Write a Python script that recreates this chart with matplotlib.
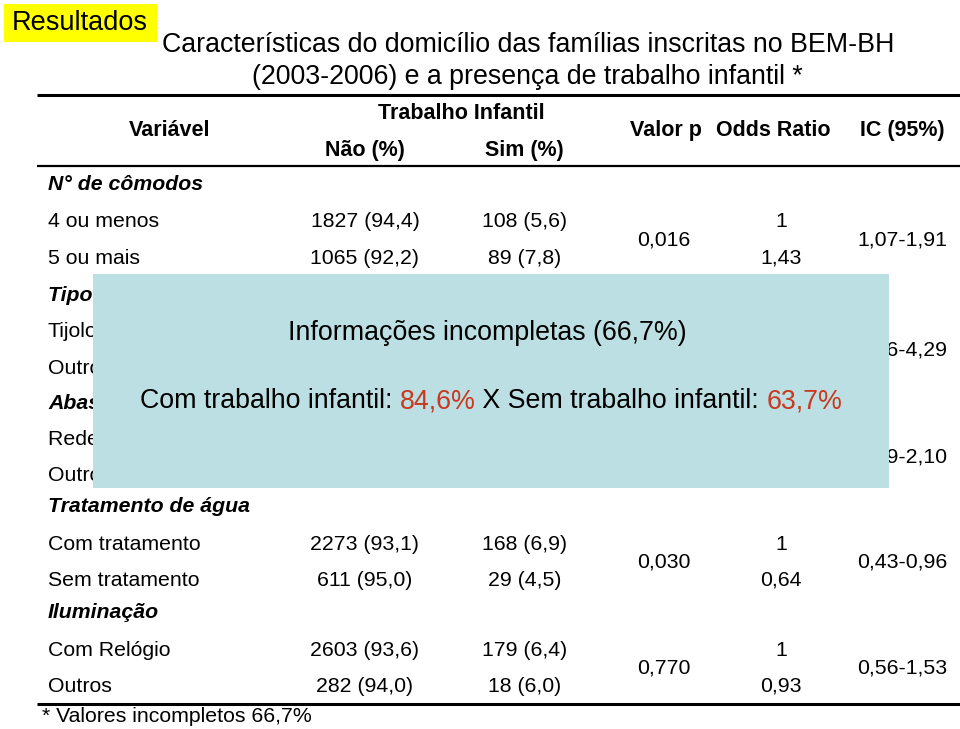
import matplotlib
matplotlib.use("Agg")
import matplotlib.pyplot as plt
from matplotlib.patches import Rectangle

plt.rcParams['font.family'] = ['Liberation Sans', 'DejaVu Sans']

# ---- data ----
title_lines = ["Características do domicílio das famílias inscritas no BEM-BH",
               "(2003-2006) e a presença de trabalho infantil *"]
col_headers = ["Variável", "Não (%)", "Sim (%)", "Valor p", "Odds Ratio", "IC (95%)"]
group_header = "Trabalho Infantil"

sections = ["N° de cômodos", "Tipo de construção", "Abastecimento de água",
            "Tratamento de água", "Iluminação"]
categories = [["4 ou menos", "5 ou mais"],
              ["Tijolo", "Outros"],
              ["Rede pública", "Outros"],
              ["Com tratamento", "Sem tratamento"],
              ["Com Relógio", "Outros"]]
nao_vals = [["1827 (94,4)", "1065 (92,2)"],
            ["", ""],
            ["", ""],
            ["2273 (93,1)", "611 (95,0)"],
            ["2603 (93,6)", "282 (94,0)"]]
sim_vals = [["108 (5,6)", "89 (7,8)"],
            ["", ""],
            ["", ""],
            ["168 (6,9)", "29 (4,5)"],
            ["179 (6,4)", "18 (6,0)"]]
p_vals = ["0,016", "", "", "0,030", "0,770"]
odds = [["1", "1,43"], ["", ""], ["", ""], ["1", "0,64"], ["1", "0,93"]]
ic_vals = ["1,07-1,91", "1,16-4,29", "1,09-2,10", "0,43-0,96", "0,56-1,53"]

overlay_line1 = "Informações incompletas (66,7%)"
overlay_parts = [("Com trabalho infantil: ", "black"), ("84,6%", "#C9381F"),
                 (" X Sem trabalho infantil: ", "black"), ("63,7%", "#C9381F")]
footnote = "* Valores incompletos 66,7%"

# ---- figure ----
fig = plt.figure(figsize=(9.6, 7.29), dpi=100)
ax = fig.add_axes([0, 0, 1, 1])
ax.set_xlim(0, 960)
ax.set_ylim(729, 0)
ax.axis('off')

# Resultados badge
ax.add_patch(Rectangle((4, 4), 153, 38, facecolor='#FFFF00', edgecolor='none', zorder=1))
ax.text(12, 23, "Resultados", fontsize=19.5, va='center', ha='left', zorder=2)

# title
ax.text(528, 45, title_lines[0], fontsize=19.3, ha='center', va='center')
ax.text(527, 77, title_lines[1], fontsize=19.3, ha='center', va='center')

# rules
ax.plot([37, 960], [95, 95], color='black', lw=2.2, solid_capstyle='butt')
ax.plot([37, 960], [166, 166], color='black', lw=1.6, solid_capstyle='butt')
ax.plot([37, 960], [704, 704], color='black', lw=2.2, solid_capstyle='butt')

hfs = 15.5
ax.text(461, 113, group_header, fontsize=hfs, fontweight='bold', ha='center', va='center')
ax.text(170, 130, col_headers[0], fontsize=hfs, fontweight='bold', ha='center', va='center')
ax.text(365, 150, col_headers[1], fontsize=hfs, fontweight='bold', ha='center', va='center')
ax.text(524, 150, col_headers[2], fontsize=hfs, fontweight='bold', ha='center', va='center')
ax.text(666, 130, col_headers[3], fontsize=hfs, fontweight='bold', ha='center', va='center')
ax.text(773, 130, col_headers[4], fontsize=hfs, fontweight='bold', ha='center', va='center')
ax.text(902, 130, col_headers[5], fontsize=hfs, fontweight='bold', ha='center', va='center')

# body
fs = 15.3
sec_y = [184, 295, 403, 507, 613]
row_y = [[221, 258], [331, 368], [439, 475], [545, 580], [650, 686]]
for i, sec in enumerate(sections):
    ax.text(48, sec_y[i], sec, fontsize=fs, fontweight='bold', style='italic',
            ha='left', va='center')
    for j in range(2):
        y = row_y[i][j]
        ax.text(48, y, categories[i][j], fontsize=fs, ha='left', va='center')
        ax.text(365, y, nao_vals[i][j], fontsize=fs, ha='center', va='center')
        ax.text(525, y, sim_vals[i][j], fontsize=fs, ha='center', va='center')
        ax.text(781, y, odds[i][j], fontsize=fs, ha='center', va='center')
    ymid = (row_y[i][0] + row_y[i][1]) / 2
    ax.text(664, ymid, p_vals[i], fontsize=fs, ha='center', va='center')
    ax.text(902, ymid, ic_vals[i], fontsize=fs, ha='center', va='center')

ax.text(42, 716, footnote, fontsize=fs, ha='left', va='center')

# overlay box
ax.add_patch(Rectangle((93, 274), 796, 214, facecolor='#BCDFE3', edgecolor='none', zorder=5))
ax.text(487, 333, overlay_line1, fontsize=19.3, ha='center', va='center', zorder=6)

fig.canvas.draw()
renderer = fig.canvas.get_renderer()
tmp = []
widths = []
for s, c in overlay_parts:
    t = ax.text(0, 0, s, fontsize=19.3, ha='left', va='center', color=c, zorder=6)
    bb = t.get_window_extent(renderer=renderer)
    widths.append(bb.width)
    tmp.append(t)
total = sum(widths)
x = 491 - total / 2
for t, w in zip(tmp, widths):
    t.set_position((x, 401))
    x += w

fig.savefig("out.png", dpi=100)
